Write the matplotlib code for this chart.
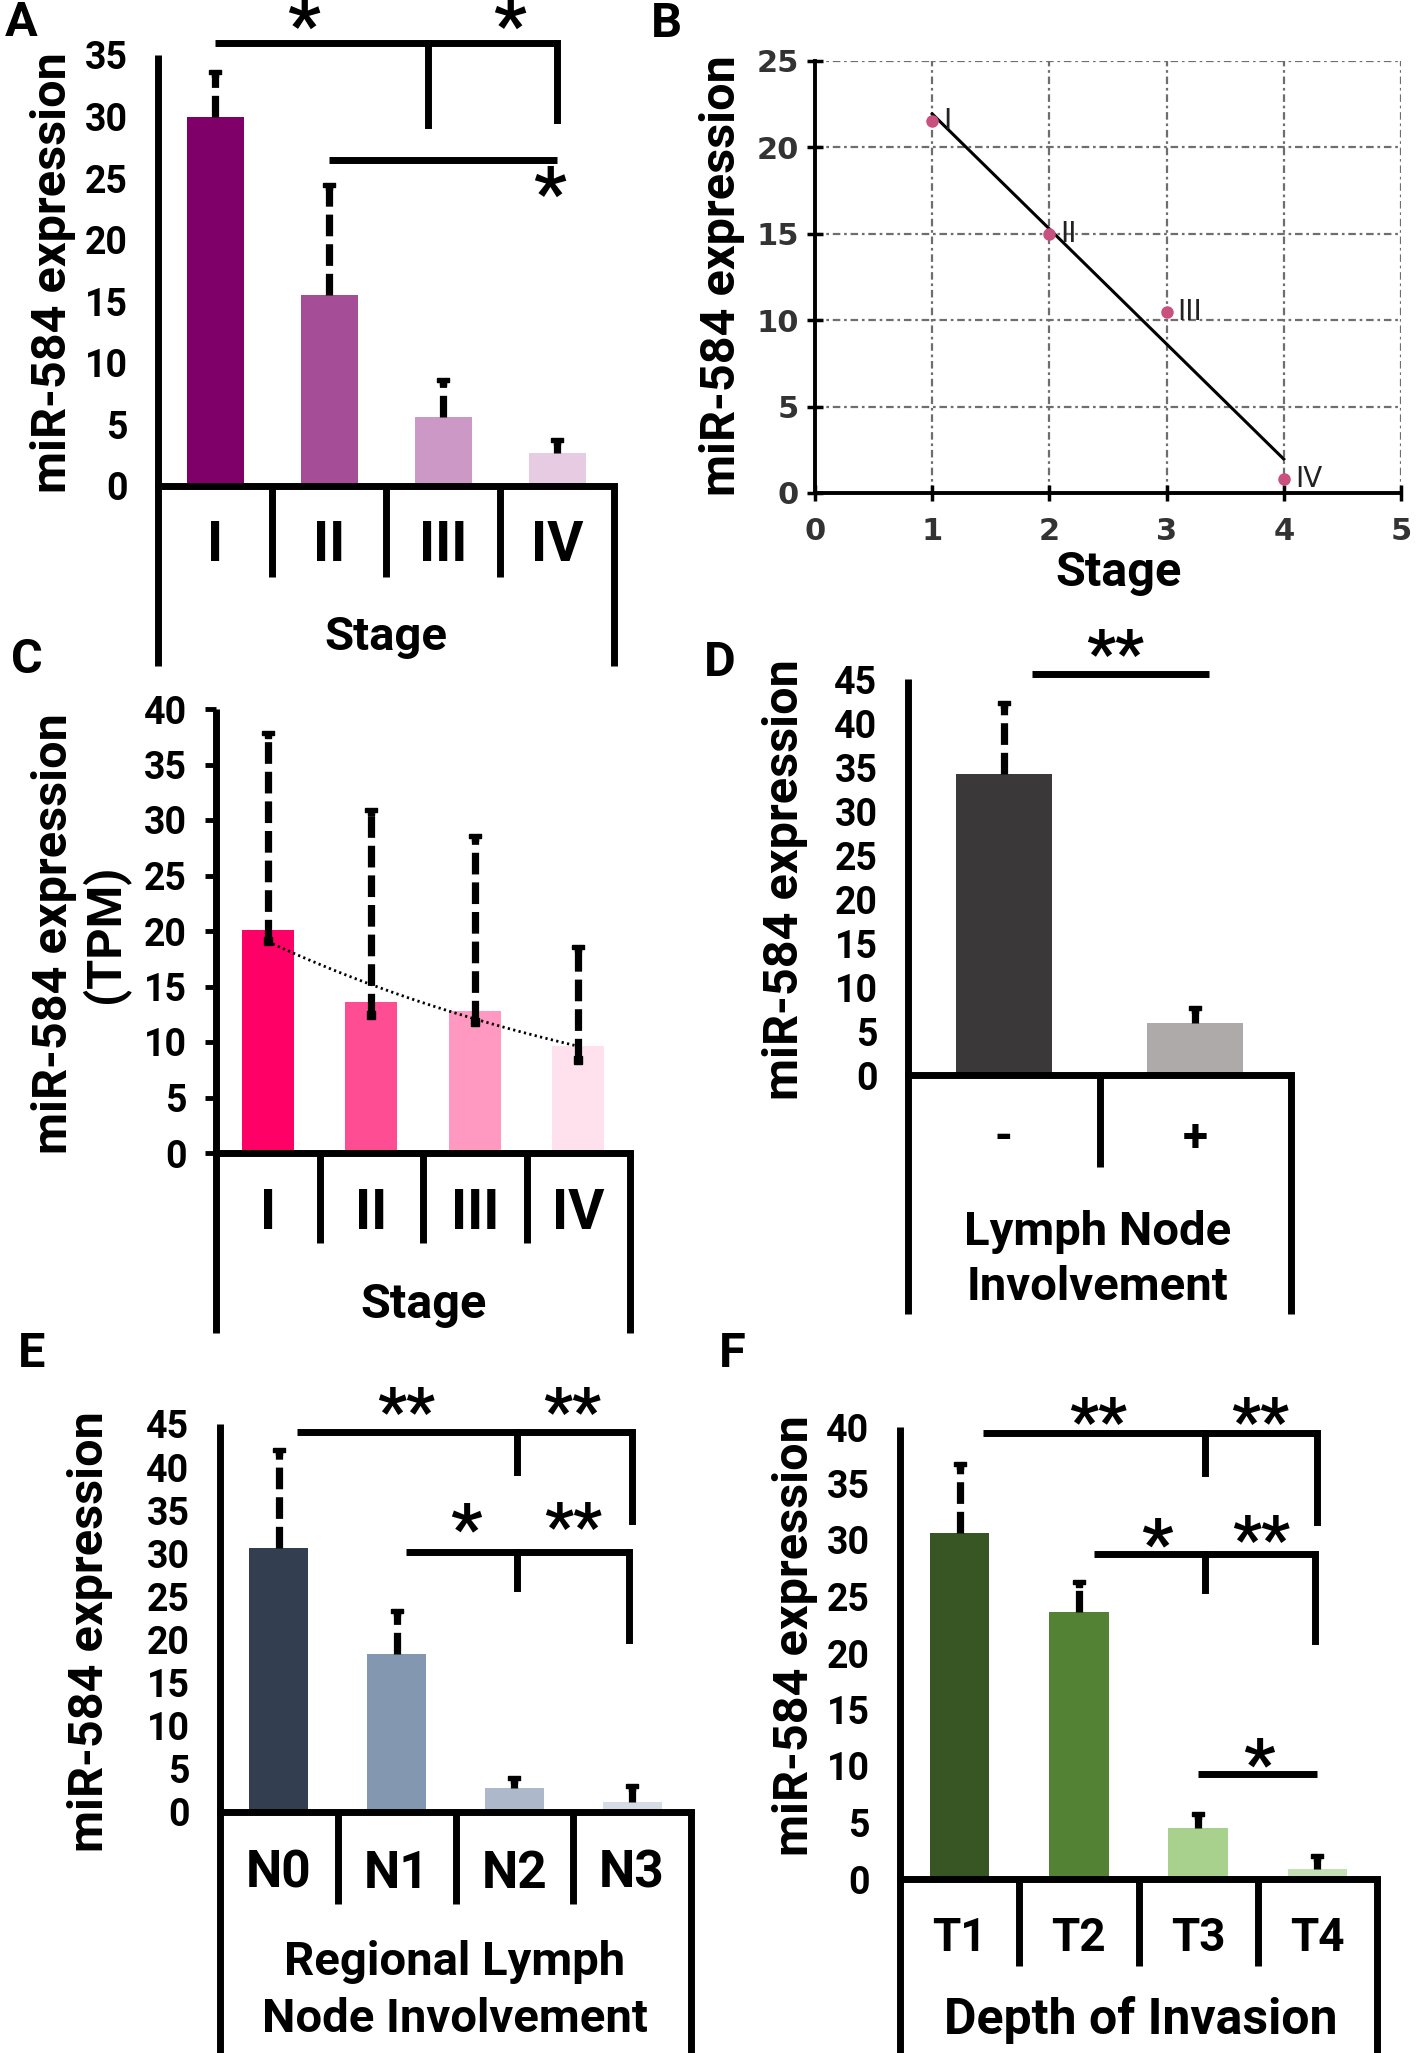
import numpy as np
import matplotlib
matplotlib.use('Agg')
import matplotlib.pyplot as plt
from matplotlib.path import Path

plt.rcParams['font.family'] = ['Roboto', 'DejaVu Sans']
plt.rcParams['font.weight'] = 'bold'

W, H = 1418, 2053

# A: expression by stage
stage_cats = ['I', 'II', 'III', 'IV']
a_vals = [30.0, 15.5, 5.6, 2.7]
a_err = [33.8, 24.6, 8.8, 3.9]
a_colors = ['#7f0068', '#a54d96', '#cc99c6', '#e6cbe2']

# B: stage trend
b_stage = [1, 2, 3, 4]
b_vals = [21.5, 15.0, 10.5, 0.8]

# C: TPM by stage
c_vals = [20.1, 13.6, 12.8, 9.6]
c_err_lo = [19.1, 12.4, 11.8, 8.4]
c_err_hi = [38.0, 31.1, 28.7, 18.7]
c_colors = ['#ff0066', '#ff4d94', '#ff99c2', '#ffe1ed']

# D: lymph node involvement
lymph_cats = ['-', '+']
d_vals = [34.2, 5.9]
d_err = [42.5, 7.8]
d_colors = ['#3a3838', '#aeaaaa']

# E: regional lymph node
n_cats = ['N0', 'N1', 'N2', 'N3']
e_vals = [30.6, 18.3, 2.8, 1.2]
e_err = [42.2, 23.6, 4.2, 3.2]
e_colors = ['#333f50', '#8497b0', '#adb9ca', '#d6dce5']

# F: depth of invasion
t_cats = ['T1', 'T2', 'T3', 'T4']
f_vals = [30.6, 23.6, 4.5, 0.9]
f_err = [36.9, 26.5, 5.9, 2.2]
f_colors = ['#375623', '#548235', '#a9d18e', '#c5e0b4']

LW = 5.0
YLAB_FS = 35
cap = Path([(-6, 0), (6, 0), (6, -4), (3.5, -4), (3.5, -7), (-3.5, -7), (-3.5, -4), (-6, -4), (-6, 0)])

fig = plt.figure(figsize=(W / 100, H / 100), dpi=100)


def add_ax(left, right, top, base):
    ax = fig.add_axes([left / W, 1 - base / H, (right - left) / W, (base - top) / H])
    ax.geom = (top, base)
    return ax


def fy(ax, py):
    top, base = ax.geom
    return (base - py) / (base - top)


def ftext(x, y, s, **kw):
    kw.setdefault('ha', 'center')
    kw.setdefault('va', 'center')
    fig.text(x / W, 1 - y / H, s, **kw)


def bar_panel(ax, cats, vals, err_hi, colors, ymax, step, sep_bot, out_bot, tick_y, cat_fs, err_lo=None):
    n = len(cats)
    x = np.arange(n)
    ax.bar(x, vals, width=0.5, color=colors, zorder=2)
    lo = vals if err_lo is None else err_lo
    for i in range(n):
        ax.plot([i, i], [lo[i], err_hi[i]], color='k', lw=5.2, ls=(0, (3.0, 1.1)),
                dash_capstyle='butt', zorder=3, clip_on=False)
        ax.plot(i, err_hi[i], marker=cap, ms=10, color='k', zorder=3, clip_on=False)
        if err_lo is not None:
            ax.plot(i, err_lo[i], marker='s', ms=6, color='k', zorder=3)
    ax.set_xlim(-0.5, n - 0.5)
    ax.set_ylim(0, ymax)
    ax.set_yticks(np.arange(0, ymax + 1, step))
    ax.set_xticks([])
    for s in ax.spines.values():
        s.set_visible(False)
    tr = ax.get_xaxis_transform()
    kw = dict(color='k', lw=LW, clip_on=False, transform=tr)
    ax.plot([-0.5, n - 0.5], [0, 0], solid_capstyle='projecting', **kw)
    ax.plot([-0.5, -0.5], [1, fy(ax, out_bot)], solid_capstyle='butt', **kw)
    ax.plot([n - 0.5, n - 0.5], [0, fy(ax, out_bot)], solid_capstyle='butt', **kw)
    for k in range(1, n):
        ax.plot([k - 0.5, k - 0.5], [0, fy(ax, sep_bot)], solid_capstyle='butt', **kw)
    for i, c in enumerate(cats):
        ax.text(i, fy(ax, tick_y), c, transform=tr, ha='center', va='center', fontsize=cat_fs)
    ax.tick_params(axis='y', length=0, pad=22, labelsize=27)


def bracket(ax, x0, x1, y, drops):
    ax.plot([x0, x1], [y, y], color='k', lw=LW, clip_on=False, solid_capstyle='butt')
    for dx, dy in drops:
        ax.plot([dx, dx], [y, dy], color='k', lw=LW, clip_on=False, solid_capstyle='projecting')


def stars(ax, x, y, s, fs=46):
    # y is where the middle of the asterisk glyph should sit
    ax.annotate(s, (x, y), xytext=(0, -0.56 * fs + 6), textcoords='offset points',
                ha='center', va='baseline', fontsize=fs, annotation_clip=False)


# ---- A ----
axA = add_ax(158, 614, 55, 486)
bar_panel(axA, stage_cats, a_vals, a_err, a_colors, 35, 5, 577, 666, 546, 40)
bracket(axA, 0.0, 3.0, 36.0, [(1.87, 29.3), (3.0, 29.7)])
bracket(axA, 1.0, 3.0, 26.5, [])
stars(axA, 0.78, 38.0, '*', 52)
stars(axA, 2.58, 38.0, '*', 52)
stars(axA, 2.93, 24.4, '*', 52)
ftext(53, 273, 'miR-584 expression', rotation=90, fontsize=YLAB_FS)
ftext(386, 637, 'Stage', fontsize=34)

# ---- B ----
axB = add_ax(815, 1401, 61, 493)
axB.set_xlim(0, 5)
axB.set_ylim(0, 25)
axB.set_xticks(range(0, 6))
axB.set_yticks(range(0, 26, 5))
axB.grid(True, color='#6e6e6e', lw=1.6, ls=(0, (3.4, 1.7, 1.2, 1.7)))
for s in ['top', 'right']:
    axB.spines[s].set_visible(False)
for s in ['left', 'bottom']:
    axB.spines[s].set_linewidth(2.8)
axB.tick_params(direction='inout', length=11, width=2.5, labelsize=22, labelcolor='#333333')
axB.tick_params(axis='x', pad=12)
axB.tick_params(axis='y', pad=6)
for lab in axB.get_xticklabels() + axB.get_yticklabels():
    lab.set_family(['Liberation Sans Narrow', 'DejaVu Sans'])
    lab.set_fontweight('bold')
coef = np.polyfit(b_stage, b_vals, 1)
xs = np.array([b_stage[0], b_stage[-1]])
axB.plot(xs, np.polyval(coef, xs), color='k', lw=2.2, zorder=3)
axB.plot(b_stage, b_vals, 'o', ms=8, color='#c8517f', zorder=4, clip_on=False)
for xv, yv, lab in zip(b_stage, b_vals, stage_cats):
    axB.annotate(lab, (xv, yv), xytext=(8, 0), textcoords='offset points', ha='left', va='center',
                 fontsize=20, fontweight='normal', color='#222222',
                 family=['Liberation Sans Narrow', 'DejaVu Sans'])
ftext(722, 276, 'miR-584 expression', rotation=90, fontsize=YLAB_FS)
ftext(1119, 573, 'Stage', fontsize=35)

# ---- C ----
axC = add_ax(216, 630, 709, 1153)
bar_panel(axC, stage_cats, c_vals, c_err_hi, c_colors, 40, 5, 1243, 1333, 1214, 40, err_lo=c_err_lo)
axC.tick_params(axis='y', length=8, width=3.5, pad=13, direction='out')
cx = np.arange(len(c_vals))
ccoef = np.polyfit(cx, np.log(c_vals), 1)
xx = np.linspace(0, len(c_vals) - 1, 60)
axC.plot(xx, np.exp(np.polyval(ccoef, xx)), color='k', lw=2.0, ls=(0, (0.8, 1.2)), zorder=4)
ftext(80, 934, 'miR-584 expression\n(TPM)', rotation=90, fontsize=YLAB_FS, linespacing=1.1)
ftext(424, 1305, 'Stage', fontsize=35)

# ---- D ----
axD = add_ax(908, 1291, 679, 1075)
bar_panel(axD, lymph_cats, d_vals, d_err, d_colors, 45, 5, 1167, 1314, 1138, 33)
bracket(axD, 0.15, 1.07, 45.6, [])
stars(axD, 0.58, 48.6, '**')
ftext(785, 880, 'miR-584 expression', rotation=90, fontsize=YLAB_FS)
ftext(1098, 1232, 'Lymph Node', fontsize=34)
ftext(1098, 1287, 'Involvement', fontsize=34)

# ---- E ----
axE = add_ax(220, 691, 1424, 1812)
bar_panel(axE, n_cats, e_vals, e_err, e_colors, 45, 5, 1904, H + 5, 1874, 37)
bracket(axE, 0.15, 3.0, 44.1, [(2.02, 39.4), (3.0, 33.7)])
bracket(axE, 1.08, 2.97, 30.1, [(2.02, 26.0), (2.97, 20.0)])
stars(axE, 1.08, 47.1, '**')
stars(axE, 2.49, 47.1, '**')
stars(axE, 1.59, 33.8, '*', 50)
stars(axE, 2.5, 33.8, '**')
ftext(90, 1632, 'miR-584 expression', rotation=90, fontsize=YLAB_FS)
ftext(455, 1962, 'Regional Lymph', fontsize=34)
ftext(455, 2019, 'Node Involvement', fontsize=34)

# ---- F ----
axF = add_ax(900, 1377, 1427, 1879)
bar_panel(axF, t_cats, f_vals, f_err, f_colors, 40, 5, 1966, H + 5, 1938, 33)
bracket(axF, 0.2, 3.0, 39.5, [(2.06, 35.9), (3.0, 31.6)])
bracket(axF, 1.13, 2.98, 28.8, [(2.06, 25.6), (2.98, 21.1)])
bracket(axF, 2.0, 3.0, 9.3, [])
stars(axF, 1.16, 41.0, '**')
stars(axF, 2.52, 41.0, '**')
stars(axF, 1.65, 30.4, '*', 50)
stars(axF, 2.53, 30.6, '**')
stars(axF, 2.51, 10.9, '*', 50)
ftext(795, 1636, 'miR-584 expression', rotation=90, fontsize=YLAB_FS)
ftext(1141, 2020, 'Depth of Invasion', fontsize=36)

# panel letters
for lab, (px, py) in zip('ABCDEF', [(21, 23), (666, 24), (27, 660), (720, 663), (32, 1354), (732, 1354)]):
    ftext(px, py, lab, fontsize=35)

fig.savefig('out.png', dpi=100)
